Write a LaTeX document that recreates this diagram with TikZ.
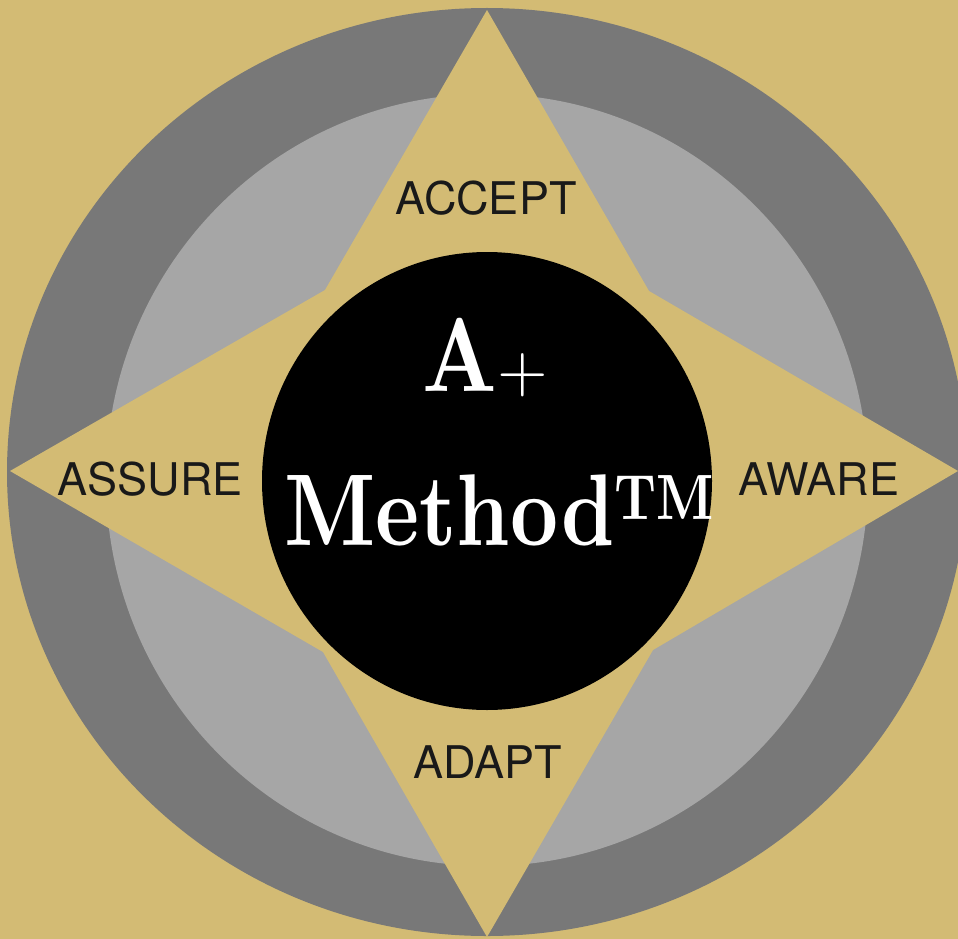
\documentclass[tikz,border=0pt]{standalone}
\usepackage{fontspec}
\newfontfamily\labelfont{TeX Gyre Heros}
\newfontfamily\titlefont{lmroman10-bold.otf}
\newfontfamily\plusfont{lmroman10-regular.otf}
\definecolor{tanbg}{RGB}{211,187,116}
\definecolor{darkring}{RGB}{120,120,120}
\definecolor{lightring}{RGB}{166,166,166}
\definecolor{labelink}{RGB}{25,25,25}
\tikzset{
  steplabel/.style={inner sep=0pt, anchor=base, text=labelink, font=\labelfont\fontsize{45}{45}\selectfont},
  titletext/.style={inner sep=0pt, anchor=base, text=white}
}
\begin{document}
\begin{tikzpicture}[x=1pt,y=-1pt]
\useasboundingbox (0,0) rectangle (958,939);
\clip (0,0) rectangle (958,939);
\fill[tanbg] (0,0) rectangle (958,939);
% rings
\fill[darkring] (487,472) ellipse [x radius=480, y radius=464];
\fill[lightring] (487,480) ellipse [x radius=381, y radius=386];
% star
\fill[tanbg] (487,10) -- (649,291) -- (958,471) -- (653,650) -- (487,937)
  -- (323,652) -- (10,471) -- (325,290) -- cycle;
% centre disc
\fill[black] (487,481) ellipse [x radius=225, y radius=229];
% labels
\node[steplabel] (accept) at (486,214) {ACCEPT};
\node[steplabel] (assure) at (150,495) {ASSURE};
\node[steplabel] (aware) at (819,495) {AWARE};
\node[steplabel] (adapt) at (488,778) {ADAPT};
% title
\node[titletext] (aplus) at (485,391) {\scalebox{0.82}[1]{\titlefont\fontsize{105}{105}\selectfont A}{\plusfont\fontsize{65}{65}\selectfont +}};
\node[titletext] (method) at (499,545) {\scalebox{0.82}[1]{\titlefont\fontsize{102}{102}\selectfont Method\raisebox{26pt}{\fontsize{64}{64}\selectfont TM}}};
\end{tikzpicture}
\end{document}
